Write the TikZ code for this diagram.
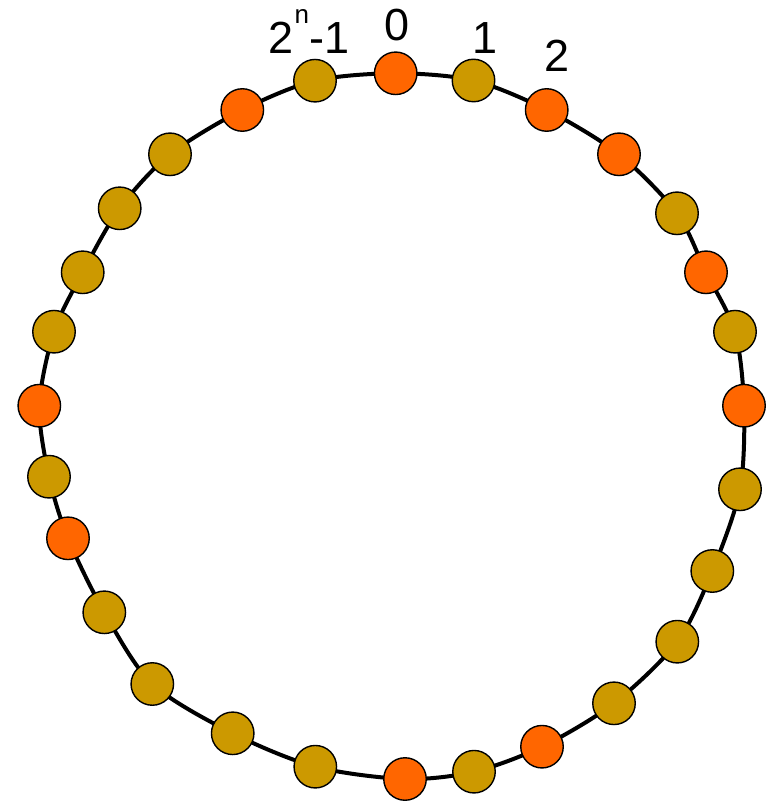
\documentclass[tikz,border=0pt]{standalone}
\usepackage{fontspec}
\setmainfont{Liberation Sans}
\usetikzlibrary{backgrounds}
\definecolor{hot}{RGB}{255,102,0}
\definecolor{gold}{RGB}{204,153,0}
\tikzset{
  bead/.style={circle, draw=black, line width=1.4pt, minimum size=42.5pt, inner sep=0pt},
  hotbead/.style={bead, fill=hot},
  goldbead/.style={bead, fill=gold},
  ring/.style={draw=black, line width=4pt},
  lab/.style={inner sep=0pt, outer sep=0pt, font=\fontsize{45}{45}\selectfont}
}
\begin{document}
\begin{tikzpicture}[x=1pt,y=-1pt]
\useasboundingbox (0,0) rectangle (772,802);
\node[hotbead]  (n0)  at (395.7,73.3) {};
\node[goldbead] (n1)  at (473.5,80.5) {};
\node[hotbead]  (n2)  at (546.7,110) {};
\node[hotbead]  (n3)  at (619,154.3) {};
\node[goldbead] (n4)  at (677,213.3) {};
\node[hotbead]  (n5)  at (706,272.3) {};
\node[goldbead] (n6)  at (735,331.7) {};
\node[hotbead]  (n7)  at (744,405.7) {};
\node[goldbead] (n8)  at (740,489.3) {};
\node[goldbead] (n9)  at (712.3,571) {};
\node[goldbead] (n10) at (677.3,641.7) {};
\node[goldbead] (n11) at (614,703.3) {};
\node[hotbead]  (n12) at (542,746.7) {};
\node[goldbead] (n13) at (474,771.7) {};
\node[hotbead]  (n14) at (405,779) {};
\node[goldbead] (n15) at (315.3,766.7) {};
\node[goldbead] (n16) at (232.7,733.3) {};
\node[goldbead] (n17) at (152.3,684) {};
\node[goldbead] (n18) at (104.3,612.3) {};
\node[hotbead]  (n19) at (68,538.3) {};
\node[goldbead] (n20) at (49,476.7) {};
\node[hotbead]  (n21) at (39.3,405.7) {};
\node[goldbead] (n22) at (54,331.7) {};
\node[goldbead] (n23) at (82.7,272.3) {};
\node[goldbead] (n24) at (119.7,208.3) {};
\node[goldbead] (n25) at (170,154.3) {};
\node[hotbead]  (n26) at (242.3,110) {};
\node[goldbead] (n27) at (315,80.7) {};
\begin{pgfonlayer}{background}
\draw[ring] plot[smooth cycle] coordinates {(n0) (n1) (n2) (n3) (n4) (n5) (n6) (n7) (n8) (n9) (n10) (n11) (n12) (n13) (n14) (n15) (n16) (n17) (n18) (n19) (n20) (n21) (n22) (n23) (n24) (n25) (n26) (n27)};
\end{pgfonlayer}
\node[lab, anchor=base west] (l27) at (268.5,53.5) {2\hspace{1pt}\raisebox{30pt}{\fontsize{26}{26}\selectfont n}\hspace{1pt}-1};
\node[lab, anchor=base] (l0) at (396.7,41) {0};
\node[lab, anchor=base] (l1) at (485,54) {1};
\node[lab, anchor=base] (l2) at (556.7,72) {2};
\end{tikzpicture}
\end{document}
